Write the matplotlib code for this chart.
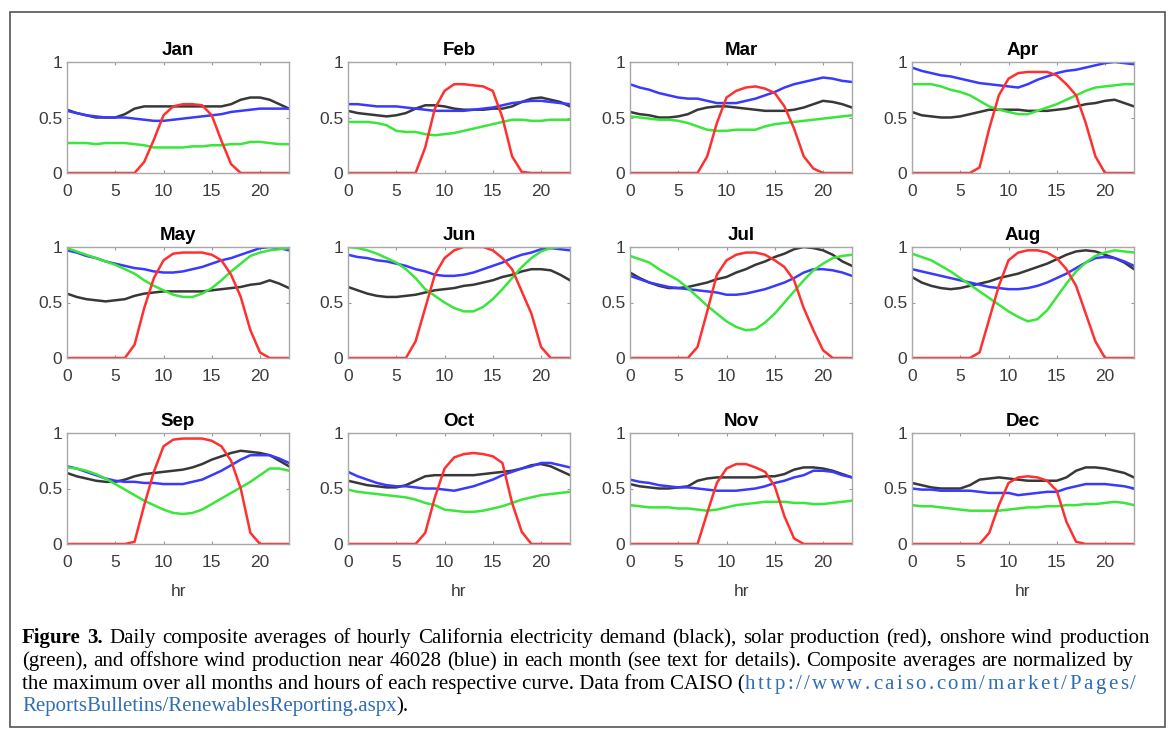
import matplotlib
matplotlib.use("Agg")
import matplotlib.pyplot as plt
from matplotlib.patches import Rectangle

hours = list(range(24))
months = ["Jan", "Feb", "Mar", "Apr", "May", "Jun",
          "Jul", "Aug", "Sep", "Oct", "Nov", "Dec"]

# California demand (black)
demand = [
    [0.57,0.54,0.52,0.50,0.50,0.50,0.53,0.58,0.60,0.60,0.60,0.60,0.60,0.60,0.60,0.60,0.60,0.62,0.66,0.68,0.68,0.66,0.62,0.58],
    [0.56,0.54,0.53,0.52,0.51,0.52,0.54,0.58,0.61,0.61,0.60,0.58,0.57,0.57,0.57,0.58,0.58,0.60,0.64,0.67,0.68,0.66,0.64,0.60],
    [0.55,0.53,0.52,0.50,0.50,0.51,0.53,0.57,0.59,0.60,0.60,0.59,0.58,0.57,0.56,0.56,0.56,0.57,0.59,0.62,0.65,0.64,0.62,0.59],
    [0.55,0.52,0.51,0.50,0.50,0.51,0.53,0.55,0.57,0.57,0.57,0.57,0.56,0.56,0.56,0.57,0.58,0.60,0.62,0.63,0.65,0.66,0.63,0.60],
    [0.58,0.55,0.53,0.52,0.51,0.52,0.53,0.56,0.58,0.59,0.60,0.60,0.60,0.60,0.60,0.61,0.62,0.63,0.64,0.66,0.67,0.70,0.67,0.63],
    [0.64,0.61,0.58,0.56,0.55,0.55,0.56,0.57,0.59,0.61,0.62,0.63,0.65,0.66,0.68,0.70,0.73,0.75,0.78,0.80,0.80,0.79,0.75,0.70],
    [0.77,0.72,0.68,0.65,0.63,0.63,0.64,0.66,0.68,0.71,0.73,0.77,0.80,0.84,0.87,0.91,0.94,0.98,1.00,0.99,0.97,0.93,0.87,0.83],
    [0.73,0.68,0.65,0.63,0.62,0.63,0.65,0.67,0.69,0.72,0.74,0.76,0.79,0.82,0.85,0.89,0.93,0.96,0.97,0.96,0.93,0.90,0.86,0.80],
    [0.64,0.61,0.59,0.57,0.56,0.56,0.58,0.61,0.63,0.64,0.65,0.66,0.67,0.69,0.72,0.76,0.79,0.82,0.84,0.83,0.82,0.80,0.75,0.70],
    [0.57,0.55,0.53,0.52,0.51,0.51,0.53,0.57,0.61,0.62,0.62,0.62,0.62,0.62,0.63,0.64,0.65,0.66,0.68,0.71,0.72,0.70,0.66,0.62],
    [0.54,0.52,0.51,0.50,0.50,0.51,0.52,0.57,0.59,0.60,0.60,0.60,0.60,0.60,0.61,0.61,0.63,0.67,0.69,0.69,0.68,0.66,0.63,0.60],
    [0.55,0.53,0.51,0.50,0.50,0.50,0.53,0.58,0.59,0.60,0.59,0.58,0.57,0.57,0.57,0.57,0.60,0.66,0.69,0.69,0.68,0.66,0.64,0.60],
]

# solar production (red)
solar = [
    [0,0,0,0,0,0,0,0,0.10,0.30,0.52,0.60,0.62,0.62,0.61,0.52,0.29,0.08,0,0,0,0,0,0],
    [0,0,0,0,0,0,0,0,0.23,0.58,0.74,0.80,0.80,0.79,0.78,0.74,0.50,0.15,0.01,0,0,0,0,0],
    [0,0,0,0,0,0,0,0,0.15,0.45,0.68,0.74,0.77,0.78,0.76,0.72,0.60,0.40,0.15,0.04,0,0,0,0],
    [0,0,0,0,0,0,0,0.05,0.40,0.70,0.85,0.90,0.91,0.91,0.91,0.88,0.80,0.70,0.45,0.15,0,0,0,0],
    [0,0,0,0,0,0,0,0.12,0.45,0.72,0.88,0.94,0.95,0.95,0.95,0.93,0.88,0.75,0.55,0.25,0.05,0,0,0],
    [0,0,0,0,0,0,0,0.15,0.45,0.75,0.90,0.97,1.00,1.00,1.00,0.97,0.90,0.80,0.60,0.40,0.10,0,0,0],
    [0,0,0,0,0,0,0,0.10,0.42,0.75,0.88,0.93,0.95,0.95,0.93,0.88,0.82,0.70,0.45,0.25,0.07,0,0,0],
    [0,0,0,0,0,0,0,0.05,0.35,0.65,0.88,0.95,0.97,0.97,0.95,0.90,0.80,0.65,0.40,0.15,0,0,0,0],
    [0,0,0,0,0,0,0,0.02,0.35,0.65,0.88,0.94,0.95,0.95,0.95,0.93,0.88,0.75,0.50,0.10,0,0,0,0],
    [0,0,0,0,0,0,0,0,0.10,0.42,0.68,0.78,0.81,0.82,0.81,0.79,0.73,0.37,0.11,0,0,0,0,0],
    [0,0,0,0,0,0,0,0,0.28,0.55,0.68,0.72,0.72,0.69,0.65,0.52,0.25,0.05,0,0,0,0,0,0],
    [0,0,0,0,0,0,0,0,0.10,0.35,0.55,0.60,0.61,0.60,0.57,0.48,0.20,0.02,0,0,0,0,0,0],
]

# onshore wind production (green)
onshore = [
    [0.27,0.27,0.27,0.26,0.27,0.27,0.27,0.26,0.25,0.23,0.23,0.23,0.23,0.24,0.24,0.25,0.25,0.26,0.26,0.28,0.28,0.27,0.26,0.26],
    [0.46,0.46,0.46,0.45,0.43,0.38,0.37,0.37,0.35,0.34,0.35,0.36,0.38,0.40,0.42,0.44,0.46,0.48,0.48,0.47,0.47,0.48,0.48,0.48],
    [0.51,0.50,0.49,0.48,0.48,0.47,0.45,0.42,0.39,0.38,0.38,0.39,0.39,0.39,0.42,0.44,0.45,0.46,0.47,0.48,0.49,0.50,0.51,0.52],
    [0.80,0.80,0.80,0.78,0.75,0.73,0.70,0.65,0.60,0.57,0.55,0.53,0.53,0.56,0.59,0.62,0.66,0.70,0.74,0.77,0.78,0.79,0.80,0.80],
    [0.99,0.96,0.93,0.90,0.87,0.84,0.80,0.76,0.70,0.65,0.61,0.57,0.55,0.55,0.58,0.63,0.70,0.78,0.85,0.92,0.95,0.97,0.98,0.99],
    [1.00,0.99,0.97,0.94,0.90,0.86,0.80,0.72,0.62,0.56,0.50,0.45,0.42,0.42,0.46,0.53,0.62,0.72,0.82,0.90,0.96,0.99,1.00,1.00],
    [0.92,0.89,0.86,0.80,0.75,0.70,0.63,0.55,0.47,0.40,0.33,0.28,0.25,0.26,0.32,0.40,0.50,0.60,0.70,0.79,0.85,0.90,0.92,0.93],
    [0.94,0.91,0.88,0.83,0.78,0.72,0.66,0.60,0.54,0.48,0.42,0.37,0.33,0.35,0.43,0.55,0.67,0.78,0.86,0.92,0.95,0.97,0.96,0.95],
    [0.69,0.68,0.66,0.63,0.59,0.54,0.49,0.44,0.39,0.35,0.31,0.28,0.27,0.28,0.31,0.36,0.41,0.46,0.51,0.56,0.62,0.68,0.68,0.66],
    [0.49,0.47,0.46,0.45,0.44,0.43,0.42,0.40,0.37,0.35,0.31,0.30,0.29,0.29,0.30,0.32,0.34,0.37,0.40,0.42,0.44,0.45,0.46,0.47],
    [0.35,0.34,0.33,0.33,0.33,0.32,0.32,0.31,0.30,0.31,0.33,0.35,0.36,0.37,0.38,0.38,0.38,0.37,0.37,0.36,0.36,0.37,0.38,0.39],
    [0.35,0.34,0.34,0.33,0.32,0.31,0.30,0.30,0.30,0.30,0.31,0.32,0.33,0.33,0.34,0.34,0.35,0.35,0.36,0.36,0.37,0.38,0.37,0.35],
]

# offshore wind production near 46028 (blue)
offshore = [
    [0.56,0.54,0.52,0.51,0.50,0.50,0.50,0.49,0.48,0.47,0.47,0.48,0.49,0.50,0.51,0.52,0.53,0.55,0.56,0.57,0.58,0.58,0.58,0.58],
    [0.62,0.62,0.61,0.60,0.60,0.60,0.59,0.58,0.57,0.56,0.56,0.56,0.56,0.57,0.58,0.59,0.61,0.63,0.64,0.65,0.65,0.64,0.63,0.62],
    [0.80,0.77,0.75,0.72,0.70,0.68,0.67,0.67,0.65,0.63,0.63,0.63,0.65,0.67,0.70,0.73,0.77,0.80,0.82,0.84,0.86,0.85,0.83,0.82],
    [0.95,0.92,0.90,0.88,0.87,0.85,0.83,0.81,0.80,0.79,0.78,0.77,0.80,0.84,0.87,0.90,0.92,0.93,0.95,0.97,0.99,1.00,0.99,0.98],
    [0.97,0.95,0.92,0.90,0.87,0.85,0.83,0.81,0.80,0.78,0.77,0.77,0.78,0.80,0.82,0.85,0.88,0.90,0.93,0.96,0.99,1.00,0.99,0.97],
    [0.93,0.91,0.90,0.88,0.87,0.85,0.83,0.80,0.78,0.75,0.74,0.74,0.75,0.77,0.80,0.83,0.86,0.90,0.93,0.95,0.98,0.99,0.98,0.97],
    [0.74,0.71,0.68,0.66,0.64,0.63,0.62,0.61,0.60,0.59,0.57,0.57,0.58,0.60,0.62,0.65,0.68,0.72,0.77,0.80,0.80,0.79,0.77,0.74],
    [0.80,0.78,0.76,0.74,0.72,0.70,0.68,0.66,0.64,0.63,0.62,0.62,0.63,0.65,0.68,0.72,0.76,0.81,0.86,0.90,0.91,0.90,0.87,0.83],
    [0.70,0.68,0.65,0.62,0.59,0.57,0.56,0.56,0.55,0.55,0.54,0.54,0.54,0.56,0.58,0.62,0.66,0.71,0.76,0.80,0.80,0.80,0.77,0.73],
    [0.65,0.61,0.58,0.55,0.53,0.52,0.52,0.51,0.50,0.50,0.49,0.48,0.50,0.52,0.55,0.58,0.62,0.65,0.68,0.70,0.73,0.73,0.71,0.69],
    [0.58,0.56,0.55,0.53,0.52,0.51,0.51,0.50,0.49,0.48,0.48,0.48,0.49,0.50,0.52,0.55,0.57,0.60,0.62,0.66,0.66,0.65,0.62,0.60],
    [0.50,0.49,0.49,0.48,0.48,0.48,0.48,0.47,0.46,0.46,0.46,0.44,0.45,0.46,0.47,0.47,0.50,0.52,0.54,0.54,0.54,0.53,0.52,0.50],
]

x_ticks = [0, 5, 10, 15, 20]
y_ticks = [0, 0.5, 1]
y_labels = ["0", "0.5", "1"]

W, H = 1171, 737
fig = plt.figure(figsize=(W / 100, H / 100), dpi=100)
fig.patch.set_facecolor("white")

# background layer in pixel coords: frame + caption
bg = fig.add_axes([0, 0, 1, 1], zorder=0)
bg.set_xlim(0, W)
bg.set_ylim(H, 0)
bg.axis("off")
bg.add_patch(Rectangle((10, 12), 1155, 715, fill=False, ec="#555555", lw=1.2))

col_left = [67, 348, 630, 912]
row_bottom = [173, 358, 544]
ax_w, ax_h = 222, 111

tick_col = "#3c3c3c"
for i, month in enumerate(months):
    r, c = divmod(i, 4)
    ax = fig.add_axes([col_left[c] / W, 1 - row_bottom[r] / H, ax_w / W, ax_h / H], zorder=1)
    ax.plot(hours, demand[i], color="#383838", lw=1.8)
    ax.plot(hours, offshore[i], color="#3a3aff", lw=1.8)
    ax.plot(hours, onshore[i], color="#3be63b", lw=1.8)
    ax.plot(hours, solar[i], color="#ff3030", lw=1.8)
    ax.set_xlim(0, 23)
    ax.set_ylim(0, 1)
    ax.set_xticks(x_ticks)
    ax.set_yticks(y_ticks)
    ax.set_yticklabels(y_labels)
    ax.tick_params(direction="in", length=2.5, width=0.8, colors="#999999",
                   labelcolor=tick_col, labelsize=12.5, top=True, right=True)
    ax.tick_params(axis="x", pad=8)
    ax.tick_params(axis="y", pad=3.5)
    for lab in ax.get_xticklabels() + ax.get_yticklabels():
        lab.set_fontfamily("Liberation Sans")
    for sp in ax.spines.values():
        sp.set_color("#a8a8a8")
        sp.set_linewidth(1.0)
    ax.set_title(month, fontsize=13.5, fontweight="bold", family="Liberation Sans", pad=5)
    if r == 2:
        ax.set_xlabel("hr", fontsize=12.5, color=tick_col, family="Liberation Sans", labelpad=10)

# caption: words spread out so each line fills its width, as in the journal
cap_font = dict(family="Liberation Serif", fontsize=15.0, va="bottom", ha="left")
link = "#2f6db5"
renderer = fig.canvas.get_renderer()


def place(units, y, x0, x1):
    arts = [bg.text(0, y, s, color=col, fontweight=wt, **cap_font) for s, col, wt in units]
    widths = [a.get_window_extent(renderer).width for a in arts]
    gap = (x1 - x0 - sum(widths)) / max(len(arts) - 1, 1)
    x = x0
    for a, w in zip(arts, widths):
        a.set_x(x)
        x += w + gap


def words(text, col="black", wt="normal"):
    return [(w, col, wt) for w in text.split()]


line1 = words("Figure 3.", wt="bold") + words(
    "Daily composite averages of hourly California electricity demand (black), "
    "solar production (red), onshore wind production")
line2 = words("(green), and offshore wind production near 46028 (blue) in each month "
              "(see text for details). Composite averages are normalized by")
line3_text = "the maximum over all months and hours of each respective curve. Data from CAISO ("
line3_url = "http://www.caiso.com/market/Pages/"

place(line1, 648, 22, 1150)
place(line2, 671, 22, 1133)
t3 = bg.text(22, 694, line3_text, color="black", **cap_font)
x3 = 22 + t3.get_window_extent(renderer).width
place([(ch, link, "normal") for ch in line3_url], 694, x3, 1136)
t4 = bg.text(22, 716, "ReportsBulletins/RenewablesReporting.aspx", color=link, **cap_font)
bg.annotate(").", xy=(1, 0), xycoords=t4, color="black", **cap_font)

fig.savefig("out.png", dpi=100)
